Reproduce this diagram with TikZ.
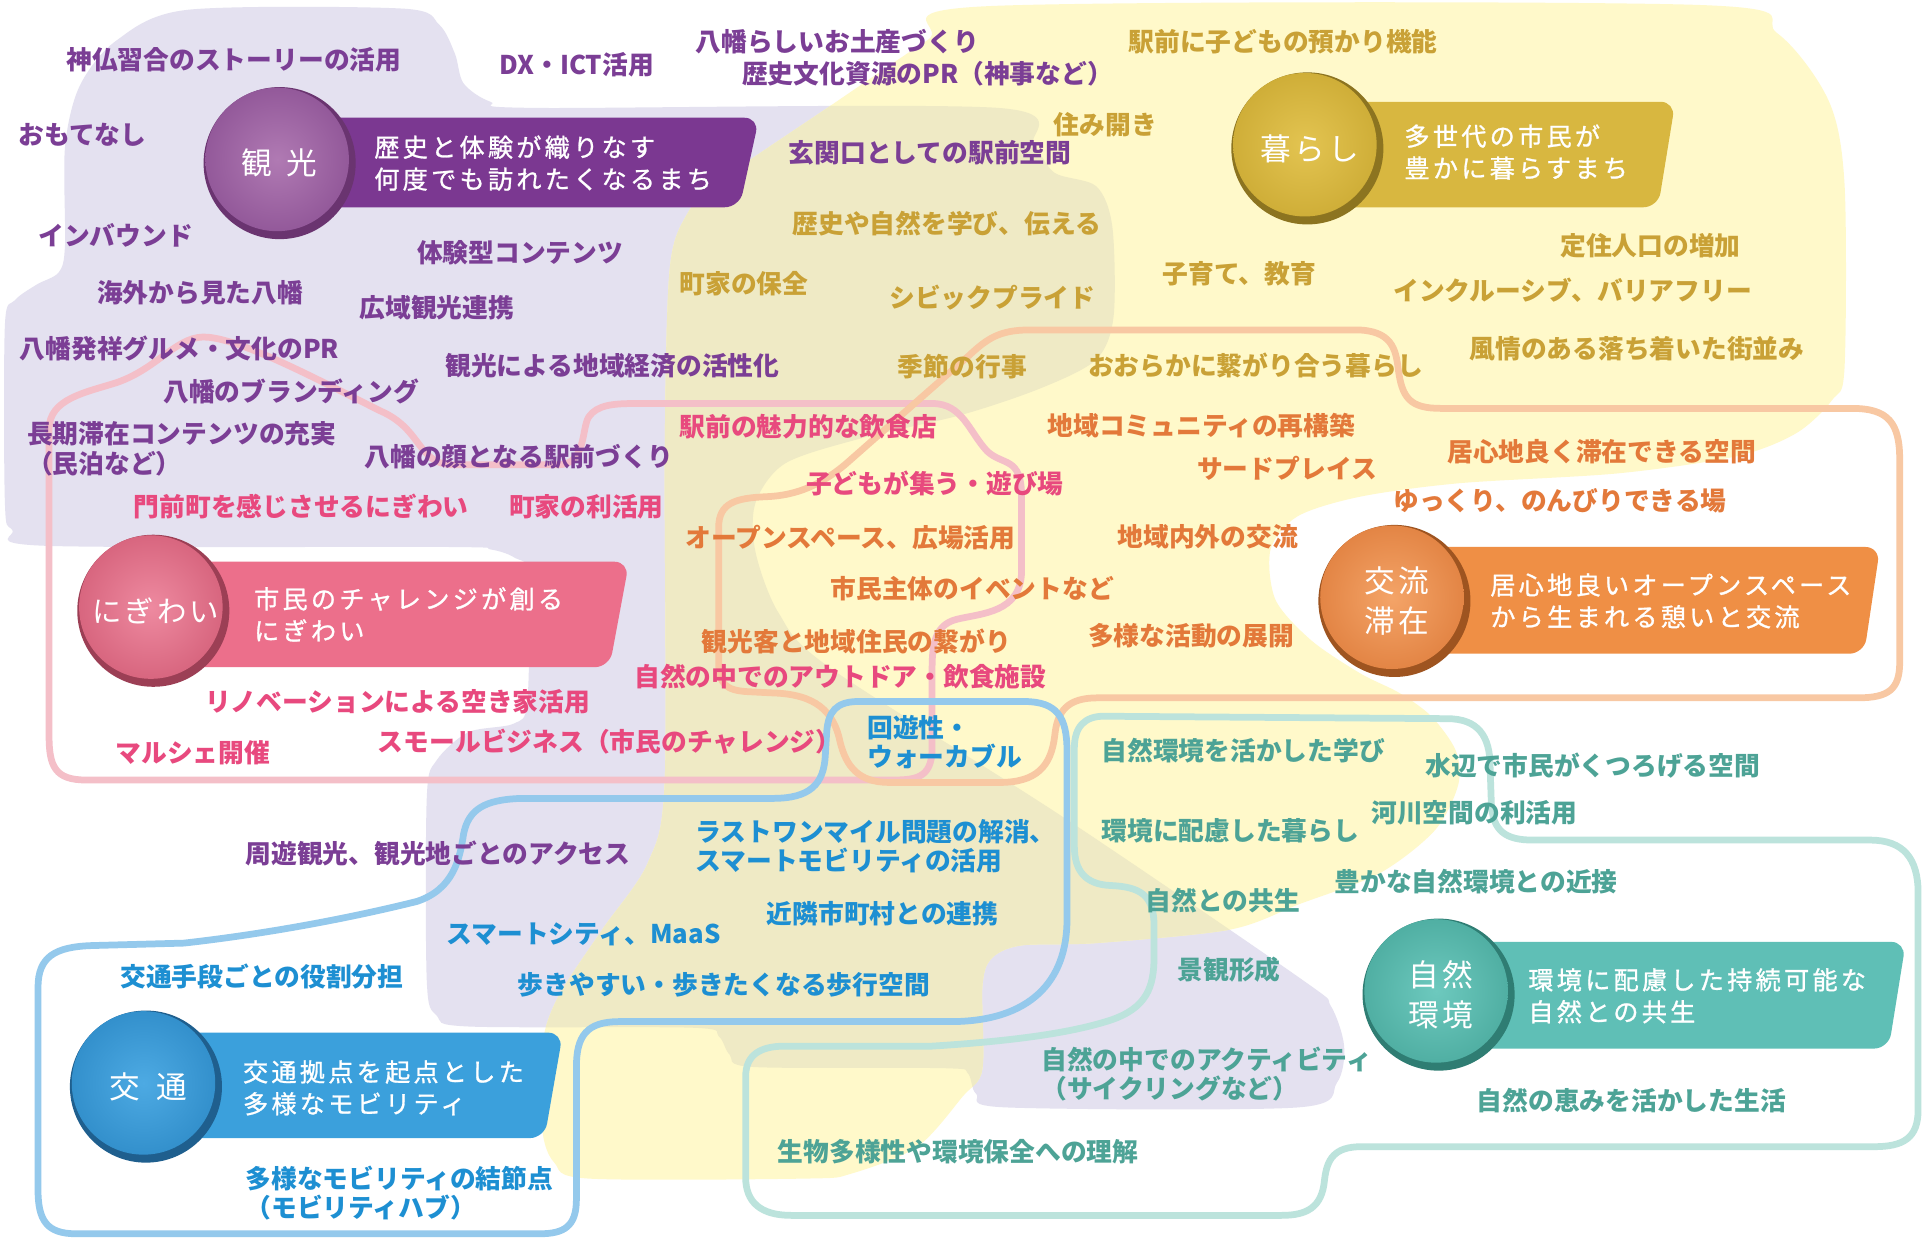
\documentclass[tikz,border=0pt]{standalone}
\usepackage{fontspec}
\setmainfont{Noto Sans CJK JP}
\newfontfamily\bnfont[LetterSpace=13,FakeBold=1]{Noto Sans CJK JP}
\newfontfamily\hbfont[LetterSpace=10]{Noto Sans CJK JP}
\definecolor{cLav}{HTML}{E4E1F0}
\definecolor{cYel}{HTML}{FFF9CA}
\definecolor{cKha}{HTML}{EFEAC5}
\definecolor{cPu}{HTML}{7B3E95}
\definecolor{cPk}{HTML}{E8497E}
\definecolor{cOr}{HTML}{E3793A}
\definecolor{cGo}{HTML}{C9A136}
\definecolor{cBl}{HTML}{1D8FD2}
\definecolor{cTe}{HTML}{4DA396}
\definecolor{lPk}{HTML}{F4BFC8}
\definecolor{lOr}{HTML}{F8C8A3}
\definecolor{lBl}{HTML}{94C9EC}
\definecolor{lTe}{HTML}{BCE3DC}
\definecolor{bPu}{HTML}{7B3891}
\definecolor{bGo}{HTML}{D8B740}
\definecolor{bPk}{HTML}{EC6F8B}
\definecolor{bOr}{HTML}{EF8F45}
\definecolor{bBl}{HTML}{3BA0DC}
\definecolor{bTe}{HTML}{5FBFB6}
\definecolor{rPu}{HTML}{6A3470}\definecolor{hPu}{HTML}{B07AB3}\definecolor{mPu}{HTML}{93599A}
\definecolor{rGo}{HTML}{8C7420}\definecolor{hGo}{HTML}{E3C451}\definecolor{mGo}{HTML}{CFAE38}
\definecolor{rPk}{HTML}{9C3F55}\definecolor{hPk}{HTML}{EE8AA0}\definecolor{mPk}{HTML}{D8667F}
\definecolor{rOr}{HTML}{9E5420}\definecolor{hOr}{HTML}{F4A468}\definecolor{mOr}{HTML}{E38545}
\definecolor{rBl}{HTML}{1F5F8E}\definecolor{hBl}{HTML}{4DAAE3}\definecolor{mBl}{HTML}{3390CC}
\definecolor{rTe}{HTML}{2F7D73}\definecolor{hTe}{HTML}{6DC9BE}\definecolor{mTe}{HTML}{50AFA3}
\tikzset{
  itm/.style={anchor=west, inner sep=0pt, align=left, font=\fontsize{21}{24}\selectfont\bfseries},
  tPu/.style={itm, text=cPu},
  tPk/.style={itm, text=cPk},
  tOr/.style={itm, text=cOr},
  tGo/.style={itm, text=cGo},
  tBl/.style={itm, text=cBl},
  tTe/.style={itm, text=cTe},
  ring/.style={line width=5.5pt, line join=round},
  bntext/.style={anchor=west, inner sep=0pt, align=left, text=white, font=\bnfont\fontsize{20.5}{26}\selectfont},
  hblabel/.style={inner sep=0pt, align=center, text=white, font=\hbfont\fontsize{25}{32}\selectfont},
  banner/.style={rounded corners=12pt},
}
\begin{document}
\begin{tikzpicture}[x=1pt,y=-1pt]
\fill[white] (0,0) rectangle (1568,1011);
\useasboundingbox (0,0) rectangle (1568,1011);

% lavender region
\fill[cLav] plot[smooth cycle, tension=0.5] coordinates {(153,8) (328,7) (358,20) (371,44) (378,68) (400,83) (437,88) (814,88) (843,118) (860,141) (894,152) (907,185) (908,258) (894,293) (850,316) (785,338) (700,358) (640,378) (616,410) (616,450) (635,500) (676,544) (868,667) (1062,799) (1085,820) (1096,853) (1090,883) (1058,903) (821,903) (796,892) (789,875) (770,871) (614,870) (595,860) (586,845) (565,838) (382,837) (356,828) (348,800) (348,650) (356,620) (382,597) (419,590) (430,572) (431,470) (420,455) (400,448) (364,446) (36,445) (10,432) (4,410) (4,265) (12,245) (30,232) (48,222) (53,200) (53,120) (65,70) (95,33)};
% yellow region
\fill[cYel] plot[smooth cycle, tension=0.5] coordinates {(806,5) (1384,4) (1449,27) (1491,82) (1504,150) (1504,300) (1494,326) (1465,353) (1416,372) (1319,386) (1190,394) (1109,405) (1058,421) (1036,448) (1040,489) (1069,522) (1109,549) (1141,565) (1167,584) (1187,612) (1189,640) (1170,677) (1125,712) (1060,737) (1003,758) (894,769) (832,771) (808,782) (801,805) (801,872) (785,894) (748,935) (694,957) (657,961) (480,961) (452,948) (442,920) (442,853) (455,813) (491,758) (528,704) (542,636) (542,367) (546,220) (560,175) (585,149) (676,87) (756,33)};
% overlap
\begin{scope}
\clip plot[smooth cycle, tension=0.5] coordinates {(153,8) (328,7) (358,20) (371,44) (378,68) (400,83) (437,88) (814,88) (843,118) (860,141) (894,152) (907,185) (908,258) (894,293) (850,316) (785,338) (700,358) (640,378) (616,410) (616,450) (635,500) (676,544) (868,667) (1062,799) (1085,820) (1096,853) (1090,883) (1058,903) (821,903) (796,892) (789,875) (770,871) (614,870) (595,860) (586,845) (565,838) (382,837) (356,828) (348,800) (348,650) (356,620) (382,597) (419,590) (430,572) (431,470) (420,455) (400,448) (364,446) (36,445) (10,432) (4,410) (4,265) (12,245) (30,232) (48,222) (53,200) (53,120) (65,70) (95,33)};
\fill[cKha] plot[smooth cycle, tension=0.5] coordinates {(806,5) (1384,4) (1449,27) (1491,82) (1504,150) (1504,300) (1494,326) (1465,353) (1416,372) (1319,386) (1190,394) (1109,405) (1058,421) (1036,448) (1040,489) (1069,522) (1109,549) (1141,565) (1167,584) (1187,612) (1189,640) (1170,677) (1125,712) (1060,737) (1003,758) (894,769) (832,771) (808,782) (801,805) (801,872) (785,894) (748,935) (694,957) (657,961) (480,961) (452,948) (442,920) (442,853) (455,813) (491,758) (528,704) (542,636) (542,367) (546,220) (560,175) (585,149) (676,87) (756,33)};
\end{scope}

% outline loops
\draw[ring, lPk] (40,600) -- (40,350) .. controls (40,325) and (70,320) .. (95,312) .. controls (130,300) and (145,272) .. (170,275) .. controls (200,278) and (260,310) .. (310,335) .. controls (345,350) and (340,379) .. (370,379) -- (455,379) .. controls (478,379) and (474,350) .. (480,340) .. controls (487,330) and (500,329) .. (520,329) -- (760,329) .. controls (785,329) and (790,352) .. (805,368) .. controls (818,380) and (833,372) .. (833,405) -- (833,465) .. controls (833,500) and (800,500) .. (780,505) .. controls (760,510) and (760,530) .. (760,550) -- (760,610) .. controls (760,636) and (745,636) .. (725,636) -- (70,636) .. controls (45,636) and (40,625) .. (40,600) -- cycle;
\draw[ring, lOr] (586,540) -- (586,430) .. controls (586,410) and (600,406) .. (625,405) .. controls (650,404) and (670,395) .. (690,378) -- (790,290) .. controls (805,276) and (815,269) .. (840,269) -- (1105,269) .. controls (1135,269) and (1138,285) .. (1140,300) .. controls (1143,325) and (1150,333) .. (1175,333) -- (1510,333) .. controls (1540,333) and (1549,345) .. (1549,375) -- (1549,540) .. controls (1549,562) and (1540,569) .. (1515,569) -- (895,569) .. controls (870,569) and (862,580) .. (860,600) .. controls (857,625) and (845,638) .. (815,638) -- (725,638) .. controls (700,638) and (690,625) .. (685,605) .. controls (680,580) and (665,566) .. (630,565) -- (610,564) .. controls (592,563) and (586,558) .. (586,540) -- cycle;
\draw[ring, lBl] (700,572) -- (835,572) .. controls (862,572) and (870,585) .. (870,612) -- (870,750) .. controls (870,800) and (840,833) .. (775,833) -- (505,833) .. controls (478,833) and (470,845) .. (470,870) -- (470,978) .. controls (470,1000) and (460,1006) .. (440,1006) -- (62,1006) .. controls (38,1006) and (31,995) .. (31,970) -- (31,805) .. controls (31,780) and (45,772) .. (75,771) -- (150,769) .. controls (230,760) and (300,745) .. (340,735) .. controls (370,725) and (375,700) .. (378,680) .. controls (382,660) and (395,652) .. (425,651) -- (630,651) .. controls (660,651) and (672,640) .. (673,615) -- (674,598) .. controls (675,580) and (682,572) .. (700,572) -- cycle;
\draw[ring, lTe] (900,584) -- (1180,586) .. controls (1205,586) and (1215,600) .. (1215,625) -- (1216,655) .. controls (1217,678) and (1228,685) .. (1250,685) -- (1525,685) .. controls (1552,685) and (1564,700) .. (1564,728) -- (1564,905) .. controls (1564,928) and (1552,935) .. (1528,935) -- (1110,935) .. controls (1088,935) and (1082,945) .. (1080,962) .. controls (1078,985) and (1065,991) .. (1045,991) -- (645,991) .. controls (620,991) and (608,980) .. (608,960) -- (608,878) .. controls (608,860) and (620,853) .. (640,853) -- (760,853) .. controls (840,848) and (880,840) .. (905,832) .. controls (935,822) and (941,805) .. (941,780) -- (941,755) .. controls (941,730) and (930,723) .. (905,722) .. controls (885,721) and (876,710) .. (876,690) -- (876,610) .. controls (876,592) and (885,584) .. (900,584) -- cycle;

% purple items
\node[tPu] (p1) at (54,49) {神仏習合のストーリーの活用};
\node[tPu] (p2) at (407,53) {DX・ICT活用};
\node[tPu] (p3) at (567,34) {八幡らしいお土産づくり};
\node[tPu] (p4) at (605,60) {歴史文化資源のPR（神事など）};
\node[tPu] (p5) at (15,110) {おもてなし};
\node[tPu] (p6) at (31,192) {インバウンド};
\node[tPu] (p7) at (340,206) {体験型コンテンツ};
\node[tPu] (p8) at (79,239) {海外から見た八幡};
\node[tPu] (p9) at (293,251) {広域観光連携};
\node[tPu] (p10) at (16,284) {八幡発祥グルメ・文化のPR};
\node[tPu] (p11) at (363,298) {観光による地域経済の活性化};
\node[tPu] (p12) at (133,319) {八幡のブランディング};
\node[tPu] (p13) at (22,366) {長期滞在コンテンツの充実\\（民泊など）};
\node[tPu] (p14) at (297,372) {八幡の顔となる駅前づくり};
\node[tPu] (p15) at (643,125) {玄関口としての駅前空間};
\node[tPu] (p16) at (200,696) {周遊観光、観光地ごとのアクセス};

% pink items
\node[tPk] (k1) at (109,413) {門前町を感じさせるにぎわい};
\node[tPk] (k2) at (415,413) {町家の利活用};
\node[tPk] (k3) at (554,348) {駅前の魅力的な飲食店};
\node[tPk] (k4) at (657,394) {子どもが集う・遊び場};
\node[tPk] (k5) at (517,552) {自然の中でのアウトドア・飲食施設};
\node[tPk] (k6) at (167,572) {リノベーションによる空き家活用};
\node[tPk] (k7) at (94,614) {マルシェ開催};
\node[tPk] (k8) at (308,605) {スモールビジネス（市民のチャレンジ）};

% orange items
\node[tOr] (o1) at (854,347) {地域コミュニティの再構築};
\node[tOr] (o2) at (976,382) {サードプレイス};
\node[tOr] (o3) at (559,438) {オープンスペース、広場活用};
\node[tOr] (o4) at (911,438) {地域内外の交流};
\node[tOr] (o5) at (677,480) {市民主体のイベントなど};
\node[tOr] (o6) at (572,523) {観光客と地域住民の繋がり};
\node[tOr] (o7) at (887,518) {多様な活動の展開};
\node[tOr] (o8) at (1180,368) {居心地良く滞在できる空間};
\node[tOr] (o9) at (1136,408) {ゆっくり、のんびりできる場};

% gold items
\node[tGo] (g1) at (920,34) {駅前に子どもの預かり機能};
\node[tGo] (g2) at (859,102) {住み開き};
\node[tGo] (g3) at (646,182) {歴史や自然を学び、伝える};
\node[tGo] (g4) at (554,231) {町家の保全};
\node[tGo] (g5) at (725,243) {シビックプライド};
\node[tGo] (g6) at (948,223) {子育て、教育};
\node[tGo] (g7) at (1272,200) {定住人口の増加};
\node[tGo] (g8) at (1136,237) {インクルーシブ、バリアフリー};
\node[tGo] (g9) at (732,299) {季節の行事};
\node[tGo] (g10) at (887,298) {おおらかに繋がり合う暮らし};
\node[tGo] (g11) at (1198,284) {風情のある落ち着いた街並み};

% blue items
\node[tBl] (b1) at (707,605) {回遊性・\\ウォーカブル};
\node[tBl] (b2) at (567,690) {ラストワンマイル問題の解消、\\スマートモビリティの活用};
\node[tBl] (b3) at (625,745) {近隣市町村との連携};
\node[tBl] (b4) at (364,762) {スマートシティ、MaaS};
\node[tBl] (b5) at (422,803) {歩きやすい・歩きたくなる歩行空間};
\node[tBl] (b6) at (98,796) {交通手段ごとの役割分担};
\node[tBl] (b7) at (200,973) {多様なモビリティの結節点\\（モビリティハブ）};

% teal items
\node[tTe] (e1) at (898,612) {自然環境を活かした学び};
\node[tTe] (e2) at (1162,624) {水辺で市民がくつろげる空間};
\node[tTe] (e3) at (898,677) {環境に配慮した暮らし};
\node[tTe] (e4) at (1118,663) {河川空間の利活用};
\node[tTe] (e5) at (1088,719) {豊かな自然環境との近接};
\node[tTe] (e6) at (934,734) {自然との共生};
\node[tTe] (e7) at (960,791) {景観形成};
\node[tTe] (e8) at (849,876) {自然の中でのアクティビティ\\（サイクリングなど）};
\node[tTe] (e9) at (634,939) {生物多様性や環境保全への理解};
\node[tTe] (e10) at (1204,897) {自然の恵みを活かした生活};

% hub: 観光
\fill[bPu, banner] (228,96) -- (619,96) -- (603,169) -- (228,169) -- cycle;
\fill[rPu] (228,133) circle (62);
\shade[inner color=hPu, outer color=mPu] (226,130) circle (58.5);
\node[hblabel] (h1) at (228,133) {観\hspace{12pt}光};
\node[bntext] (s1) at (305,133) {歴史と体験が織りなす\\何度でも訪れたくなるまち};

% hub: 暮らし
\fill[bGo, banner] (1066,83) -- (1366,83) -- (1352,169) -- (1066,169) -- cycle;
\fill[rGo] (1066,121) circle (62);
\shade[inner color=hGo, outer color=mGo] (1064,118) circle (58.5);
\node[hblabel] (h2) at (1068,121) {暮らし};
\node[bntext] (s2) at (1145,124) {多世代の市民が\\豊かに暮らすまち};

% hub: にぎわい
\fill[bPk, banner] (125,458) -- (513,458) -- (497,544) -- (125,544) -- cycle;
\fill[rPk] (125,498) circle (62);
\shade[inner color=hPk, outer color=mPk] (123,495) circle (58.5);
\node[hblabel, font=\hbfont\fontsize{24}{30}\selectfont] (h3) at (127,498) {にぎわい};
\node[bntext] (s3) at (207,501) {市民のチャレンジが創る\\にぎわい};

% hub: 交流滞在
\fill[bOr, banner] (1137,446) -- (1533,446) -- (1520,533) -- (1137,533) -- cycle;
\fill[rOr] (1137,490) circle (62);
\shade[inner color=hOr, outer color=mOr] (1135,487) circle (58.5);
\node[hblabel] (h4) at (1139,490) {交流\\滞在};
\node[bntext] (s4) at (1215,490) {居心地良いオープンスペース\\から生まれる憩いと交流};

% hub: 交通
\fill[bBl, banner] (119,842) -- (459,842) -- (444,928) -- (119,928) -- cycle;
\fill[rBl] (119,886) circle (62);
\shade[inner color=hBl, outer color=mBl] (117,883) circle (58.5);
\node[hblabel] (h5) at (121,886) {交\hspace{14pt}通};
\node[bntext] (s5) at (198,887) {交通拠点を起点とした\\多様なモビリティ};

% hub: 自然環境
\fill[bTe, banner] (1173,768) -- (1554,768) -- (1540,855) -- (1173,855) -- cycle;
\fill[rTe] (1173,811) circle (62);
\shade[inner color=hTe, outer color=mTe] (1171,808) circle (58.5);
\node[hblabel] (h6) at (1175,811) {自然\\環境};
\node[bntext] (s6) at (1246,812) {環境に配慮した持続可能な\\自然との共生};
\end{tikzpicture}
\end{document}
